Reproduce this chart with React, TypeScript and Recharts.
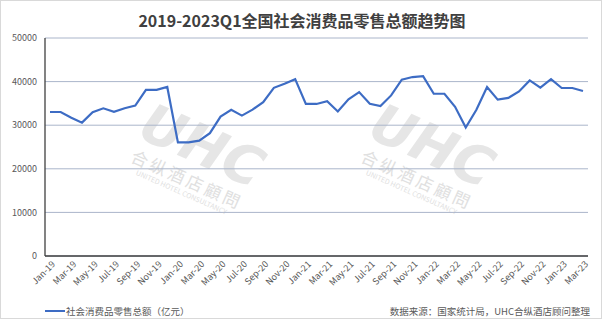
import React from "react";
import { LineChart, Line, XAxis, YAxis, CartesianGrid } from "recharts";

document.body.style.margin = "0";

const months = [
  "Jan-19", "Feb-19", "Mar-19", "Apr-19", "May-19", "Jun-19", "Jul-19", "Aug-19", "Sep-19", "Oct-19", "Nov-19", "Dec-19",
  "Jan-20", "Feb-20", "Mar-20", "Apr-20", "May-20", "Jun-20", "Jul-20", "Aug-20", "Sep-20", "Oct-20", "Nov-20", "Dec-20",
  "Jan-21", "Feb-21", "Mar-21", "Apr-21", "May-21", "Jun-21", "Jul-21", "Aug-21", "Sep-21", "Oct-21", "Nov-21", "Dec-21",
  "Jan-22", "Feb-22", "Mar-22", "Apr-22", "May-22", "Jun-22", "Jul-22", "Aug-22", "Sep-22", "Oct-22", "Nov-22", "Dec-22",
  "Jan-23", "Feb-23", "Mar-23",
];

// 社会消费品零售总额（亿元）
const retailSales = [
  33032, 33032, 31726, 30586, 32956, 33878, 33073, 33896, 34495, 38104, 38094, 38777,
  26065, 26065, 26450, 28178, 31973, 33526, 32203, 33571, 35295, 38576, 39514, 40566,
  34869, 34869, 35484, 33153, 35945, 37586, 34925, 34395, 36833, 40454, 41043, 41269,
  37213, 37213, 34233, 29483, 33547, 38742, 35870, 36258, 37745, 40271, 38615, 40542,
  38534, 38534, 37855,
];

const yTicks = [0, 10000, 20000, 30000, 40000, 50000];

const title = "2019-2023Q1全国社会消费品零售总额趋势图";
const seriesName = "社会消费品零售总额（亿元）";
const sourceNote = "数据来源：国家统计局，UHC合纵酒店顾问整理";

const data = months.map((m, i) => ({ month: m, value: retailSales[i] }));

const LINE = "#3d6cc4";
const LABEL = "#595959";

const XTick = ({ x, y, payload }: any) => (
  <g transform={`translate(${x + 3},${y})`}>
    <text x={0} y={0} dy={4} textAnchor="end" transform="rotate(-45)" fill={LABEL} fontSize={9}>
      {payload.value}
    </text>
  </g>
);

// faint company watermark behind the plot
function Watermark({ left, top }: { left: number; top: number }) {
  return (
    <div
      style={{
        position: "absolute",
        left,
        top,
        width: 150,
        transform: "rotate(24deg)",
        transformOrigin: "center",
        textAlign: "center",
        color: "#e6e6e6",
        pointerEvents: "none",
        whiteSpace: "nowrap",
      }}
    >
      <div style={{ fontSize: 54, fontWeight: 900, fontStyle: "italic", lineHeight: "52px", fontFamily: "DejaVu Sans" }}>UHC</div>
      <div style={{ fontSize: 17, lineHeight: "20px", letterSpacing: 3, color: "#e0e0e0" }}>合纵酒店顧問</div>
      <div style={{ fontSize: 7, lineHeight: "9px", color: "#e0e0e0" }}>UNITED HOTEL CONSULTANCY</div>
    </div>
  );
}

export default function App() {
  return (
    <div
      style={{
        position: "relative",
        width: 602,
        height: 319,
        boxSizing: "border-box",
        border: "1px solid #d9d9d9",
        background: "#fff",
        fontFamily: "'Noto Sans CJK SC', 'Noto Sans', sans-serif",
        overflow: "hidden",
      }}
    >
      <Watermark left={120} top={118} />
      <Watermark left={350} top={118} />
      <div
        style={{
          position: "absolute",
          left: 0,
          top: 8,
          width: 602,
          textAlign: "center",
          fontSize: 16,
          fontWeight: 700,
          color: "#404040",
          lineHeight: "22px",
        }}
      >
        {title}
      </div>
      <div style={{ position: "absolute", left: -1, top: -1 }}>
        <LineChart width={602} height={319} data={data} margin={{ top: 38, right: 14, bottom: 0, left: 0 }}>
          <CartesianGrid vertical={false} stroke="#aab5ca" strokeWidth={1} />
          <XAxis
            dataKey="month"
            interval={1}
            height={63}
            tickLine={false}
            tickMargin={0}
            axisLine={{ stroke: "#404040", strokeWidth: 1.3 }}
            padding={{ left: 5, right: 5 }}
            tick={<XTick />}
          />
          <XAxis
            xAxisId="top"
            dataKey="month"
            orientation="top"
            height={0}
            tick={false}
            tickLine={false}
            axisLine={{ stroke: "#404040", strokeWidth: 1.3 }}
          />
          <YAxis
            width={45}
            domain={[0, 50000]}
            ticks={yTicks}
            tickLine={false}
            tickMargin={2}
            axisLine={{ stroke: "#404040", strokeWidth: 1.3 }}
            tick={{ fill: LABEL, fontSize: 9 }}
          />
          <YAxis
            yAxisId="right"
            orientation="right"
            width={0}
            domain={[0, 50000]}
            tick={false}
            tickLine={false}
            axisLine={{ stroke: "#404040", strokeWidth: 1.3 }}
          />
          <Line
            type="linear"
            dataKey="value"
            name={seriesName}
            stroke={LINE}
            strokeWidth={2.2}
            dot={false}
            isAnimationActive={false}
          />
        </LineChart>
      </div>
      <div
        style={{
          position: "absolute",
          left: 44,
          top: 303,
          display: "flex",
          alignItems: "center",
          fontSize: 9.5,
          color: LABEL,
          lineHeight: "14px",
        }}
      >
        <span style={{ display: "inline-block", width: 20, height: 2.5, background: LINE, marginRight: 1 }} />
        {seriesName}
      </div>
      <div
        style={{
          position: "absolute",
          right: 11,
          top: 303,
          fontSize: 9.5,
          color: LABEL,
          lineHeight: "14px",
        }}
      >
        {sourceNote}
      </div>
    </div>
  );
}
